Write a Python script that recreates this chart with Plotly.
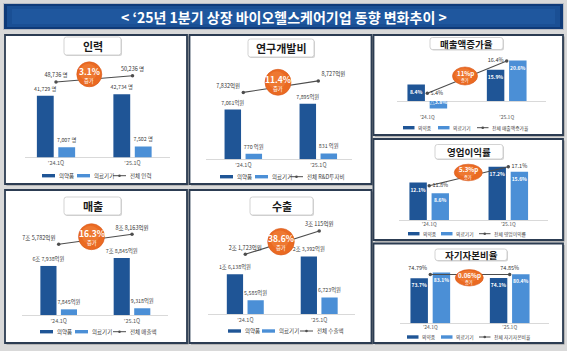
import plotly.graph_objects as go

W, H = 567, 351
FONT = "Noto Sans CJK KR"

# ---------------- data ----------------
quarters = ["'24.1Q", "'25.1Q"]
series_names = ["의약품", "의료기기"]

staff_pharma = [41729, 42734]
staff_device = [7007, 7502]
staff_total = [48736, 50236]

rnd_pharma = [7061, 7895]
rnd_device = [770, 831]
rnd_total = [7832, 8727]

sales_pharma = [67938, 78845]
sales_device = [7845, 9318]
sales_total = [75782, 88163]

export_pharma = [16138, 23392]
export_device = [5585, 6723]
export_total = [21723, 30115]

growth_pharma = [8.4, 15.9]
growth_device = [-3.8, 20.6]
growth_total = [5.4, 16.4]

opm_pharma = [12.1, 17.2]
opm_device = [8.6, 15.6]
opm_total = [11.8, 17.1]

equity_pharma = [73.7, 74.1]
equity_device = [83.1, 80.4]
equity_total = [74.79, 74.85]

main_title = "&lt; ‘25년 1분기 상장 바이오헬스케어기업 동향 변화추이 &gt;"
panel_titles = ["인력", "연구개발비", "매출", "수출", "매출액증가율", "영업이익률", "자기자본비율"]
total_names = ["전체 인력", "전체 R&amp;D투자비", "전체 매출액", "전체 수출액",
               "전체 매출액증가율", "전체 영업이익률", "전체 자기자본비율"]
change_labels = ["3.1%", "11.4%", "16.3%", "38.6%", "11%p", "5.3%p", "0.06%p"]
change_word = "증가"


# ---------------- formatters ----------------
def fmt_people(v):
    return f"{v:,} 명"


def fmt_eok(v):
    if v >= 10000:
        jo, rest = divmod(v, 10000)
        return f"{jo}조 {rest:,}억원"
    if v < 1000:
        return f"{v} 억원"
    return f"{v:,}억원"


def fmt_pct(v):
    return f"△{abs(v)}%" if v < 0 else f"{v}%"


def fmt_pct_plain(v):
    return f"{v}%"


# ---------------- styles ----------------
C_PHARMA = "#1f5596"
C_DEVICE = "#4b8fd6"
C_LINE = "#4d4d4d"
C_ORANGE = "#ea6a22"
C_NAVY = "#2c3c52"
C_TEXT = "#404040"


def px(x):
    return x / W


def py(y):
    return 1 - y / H


panels = [
    dict(pharma=staff_pharma, device=staff_device, total=staff_total, fmt=fmt_people, tfmt=fmt_people,
         side="left", frame=(5, 35, 187, 184), tbox=(64, 37, 121, 55),
         c0=56, c1=132.5, xr=(-0.4, 1.49), ydom=(60, 157.5), yr=(0, 66000), y2r=(30760, 53974),
         lpos=["top center", "top center"], badge=(89.3, 74.3, 12.5, 12.5),
         legend=(175.7, 42, 77, 113)),
    dict(pharma=rnd_pharma, device=rnd_device, total=rnd_total, fmt=fmt_eok, tfmt=fmt_eok,
         side="left", frame=(189.5, 35, 371.5, 184), tbox=(248, 39, 314, 57),
         c0=243.3, c1=318.3, xr=(-0.5, 1.45), ydom=(62, 159.3), yr=(0, 13800), y2r=(2606, 10204),
         lpos=["top left", "top right"], badge=(278, 82.3, 13, 13),
         legend=(176.7, 220, 255, 290)),
    dict(pharma=sales_pharma, device=sales_device, total=sales_total, fmt=fmt_eok, tfmt=fmt_eok,
         side="left", frame=(5, 190, 187, 343), tbox=(64, 197, 121, 215),
         c0=58.7, c1=132, xr=(-0.5, 1.49), ydom=(218, 315), yr=(0, 134350), y2r=(-11751, 108344),
         lpos=["top left", "top center"], badge=(91.5, 236.7, 13, 13),
         legend=(331.7, 40, 75, 113)),
    dict(pharma=export_pharma, device=export_device, total=export_total, fmt=fmt_eok, tfmt=fmt_eok,
         side="left", frame=(189.5, 190, 371.5, 343), tbox=(250, 197, 313, 215),
         c0=245.3, c1=319.2, xr=(-0.5, 1.484), ydom=(218, 314), yr=(0, 39000), y2r=(217, 34799),
         lpos=["top center", "top center"], badge=(281, 241.7, 13.3, 13.3),
         legend=(331, 228, 262, 300)),
    dict(pharma=growth_pharma, device=growth_device, total=growth_total, fmt=fmt_pct, tfmt=fmt_pct_plain,
         side="right", frame=(373.5, 35, 563, 135), tbox=(430, 37.5, 503, 49.5),
         c0=427.3, c1=506.7, xr=(-0.385, 1.5), ydom=(52, 113), yr=(-6.12, 25.0), y2r=(-1.31, 19.47),
         lpos=["middle right", "middle left"], badge=(465, 76, 12.5, 9),
         legend=(127.7, 403, 438, 477)),
    dict(pharma=opm_pharma, device=opm_device, total=opm_total, fmt=fmt_pct, tfmt=fmt_pct_plain,
         side="right", frame=(373.5, 139, 563, 240), tbox=(435, 144.5, 503, 159),
         c0=429.2, c1=508.3, xr=(-0.38, 1.5), ydom=(163, 220), yr=(0, 18.39), y2r=(2.23, 18.13),
         lpos=["middle right", "middle right"], badge=(468.3, 172.5, 14, 8.3),
         legend=(233.7, 408, 441, 479)),
    dict(pharma=equity_pharma, device=equity_device, total=equity_total, fmt=fmt_pct, tfmt=fmt_pct_plain,
         side="right", frame=(373.5, 243.5, 563, 343), tbox=(435, 249, 507, 260.5),
         c0=430.3, c1=509.7, xr=(-0.38, 1.5), ydom=(265, 323.3), yr=(0, 95.4), y2r=(-5.07, 90.35),
         lpos=["top left", "top center"], badge=(469.3, 277.8, 14, 8.2),
         legend=(337, 407, 441, 479)),
]


def rrect(x0, y0, x1, y1, r):
    return (f"M{px(x0 + r)},{py(y0)} L{px(x1 - r)},{py(y0)} Q{px(x1)},{py(y0)} {px(x1)},{py(y0 + r)} "
            f"L{px(x1)},{py(y1 - r)} Q{px(x1)},{py(y1)} {px(x1 - r)},{py(y1)} "
            f"L{px(x0 + r)},{py(y1)} Q{px(x0)},{py(y1)} {px(x0)},{py(y1 - r)} "
            f"L{px(x0)},{py(y0 + r)} Q{px(x0)},{py(y0)} {px(x0 + r)},{py(y0)} Z")


fig = go.Figure()
shapes = []
annotations = []
layout = dict(width=W, height=H, margin=dict(l=0, r=0, t=0, b=0),
              paper_bgcolor="#d9d9d9", plot_bgcolor="rgba(0,0,0,0)",
              barmode="overlay", showlegend=False,
              font=dict(family=FONT, color=C_TEXT))


def paper_rect(x0, y0, x1, y1, fill, line=None, layer="below"):
    d = dict(type="rect", xref="paper", yref="paper", x0=px(x0), x1=px(x1), y0=py(y1), y1=py(y0),
             fillcolor=fill, layer=layer)
    d["line"] = line if line else dict(width=0)
    return d


def ann(text, x, y, size, color=C_TEXT, xanchor="center"):
    return dict(text=text, x=px(x), y=py(y), xref="paper", yref="paper", showarrow=False,
                xanchor=xanchor, yanchor="middle", font=dict(size=size, color=color, family=FONT))


# title band
shapes.append(paper_rect(3, 3, 564, 30, "#b8bcc4"))
shapes.append(paper_rect(4, 4, 563, 29, "#0f3a78"))
shapes.append(paper_rect(7, 6, 560, 27, "#1a4f94"))
shapes.append(paper_rect(12, 9, 555, 24, "#1f579e"))
annotations.append(ann(f"<b>{main_title}</b>", 283.5, 16.5, 14, "white"))

for i, p in enumerate(panels):
    n = i + 1
    left = p["side"] == "left"
    xs = "x" if n == 1 else f"x{n}"
    ys = "y" if n == 1 else f"y{n}"
    y2s = f"y{n + 7}"
    xkey = "xaxis" if n == 1 else f"xaxis{n}"
    ykey = "yaxis" if n == 1 else f"yaxis{n}"
    y2key = f"yaxis{n + 7}"

    # frame
    fx0, fy0, fx1, fy1 = p["frame"]
    shapes.append(paper_rect(fx0 + 1.5, fy0 + 1.5, fx1 + 1.5, fy1 + 1.5, "#8f8f8f"))
    shapes.append(paper_rect(fx0, fy0, fx1, fy1, "white", dict(color=C_NAVY, width=1.8)))

    # title box
    tx0, ty0, tx1, ty1 = p["tbox"]
    shapes.append(dict(type="path", xref="paper", yref="paper", path=rrect(tx0 + 1, ty0 + 1, tx1 + 1, ty1 + 1, 2.5),
                       fillcolor="#d4d4d4", line=dict(width=0), layer="below"))
    shapes.append(dict(type="path", xref="paper", yref="paper", path=rrect(tx0, ty0, tx1, ty1, 2.5),
                       fillcolor="white", line=dict(color="#c8c8c8", width=0.8), layer="below"))
    annotations.append(ann(f"<b>{panel_titles[i]}</b>", (tx0 + tx1) / 2, (ty0 + ty1) / 2 + 0.3,
                           11 if left else 9.5, "#1a1a1a"))

    # axes
    unit = p["c1"] - p["c0"]
    dom_x = [px(p["c0"] + p["xr"][0] * unit), px(p["c0"] + p["xr"][1] * unit)]
    dom_y = [py(p["ydom"][1]), py(p["ydom"][0])]
    layout[xkey] = dict(domain=dom_x, anchor=ys, type="category", range=list(p["xr"]),
                        showgrid=False, zeroline=False, showline=False, ticks="",
                        tickfont=dict(size=5.5 if left else 5, color="#595959", family=FONT),
                        ticklabelstandoff=1 if left else 0, fixedrange=True)
    layout[ykey] = dict(domain=dom_y, anchor=xs, range=list(p["yr"]), showgrid=False,
                        showticklabels=False, zeroline=True, zerolinecolor="#d9d9d9",
                        zerolinewidth=1, showline=False, fixedrange=True)
    layout[y2key] = dict(overlaying=ys, anchor=xs, range=list(p["y2r"]), visible=False,
                         showgrid=False, zeroline=False, fixedrange=True)

    # bars
    for vals, name, color, off in [(p["pharma"], series_names[0], C_PHARMA, -0.25),
                                   (p["device"], series_names[1], C_DEVICE, 0.03)]:
        texts = [p["fmt"](v) for v in vals]
        if left:
            fig.add_trace(go.Bar(x=quarters, y=vals, name=name, width=0.22, offset=off,
                                 marker=dict(color=color, line=dict(width=0)),
                                 text=texts, textposition="outside", cliponaxis=False,
                                 constraintext="none", textangle=0,
                                 outsidetextfont=dict(size=5.3, color=C_TEXT, family=FONT),
                                 xaxis=xs, yaxis=ys, hoverinfo="skip", showlegend=False))
        else:
            fig.add_trace(go.Bar(x=quarters, y=vals, name=name, width=0.22, offset=off,
                                 marker=dict(color=color, line=dict(width=0)),
                                 text=texts, texttemplate="<b>%{text}</b>", textposition="inside",
                                 insidetextanchor="end", cliponaxis=False, textangle=0,
                                 constraintext="none",
                                 insidetextfont=dict(size=5, color="white", family=FONT),
                                 xaxis=xs, yaxis=ys, hoverinfo="skip", showlegend=False))

    # total line
    fig.add_trace(go.Scatter(x=quarters, y=p["total"], mode="lines+markers+text",
                             line=dict(color=C_LINE, width=1.1), marker=dict(size=3.5, color=C_LINE),
                             text=[p["tfmt"](v) for v in p["total"]], textposition=p["lpos"],
                             textfont=dict(size=5.5, color="#333333", family=FONT),
                             cliponaxis=False, xaxis=xs, yaxis=y2s, hoverinfo="skip", showlegend=False))

    # change badge
    bx, by, rx, ry = p["badge"]
    shapes.append(dict(type="circle", xref="paper", yref="paper", x0=px(bx - rx), x1=px(bx + rx),
                       y0=py(by + ry), y1=py(by - ry), fillcolor=C_ORANGE,
                       line=dict(color="#d9581a", width=0.6), layer="above"))
    shapes.append(dict(type="circle", xref="paper", yref="paper", x0=px(bx - rx * 0.78), x1=px(bx + rx * 0.6),
                       y0=py(by + ry * 0.55), y1=py(by - ry * 0.85), fillcolor="#f38a45",
                       opacity=0.45, line=dict(width=0), layer="above"))
    if left:
        annotations.append(ann(f"<b>{change_labels[i]}</b>", bx, by - 3.4, 8.5, "white"))
        annotations.append(ann(change_word, bx, by + 6.4, 5.3, "white"))
    else:
        annotations.append(ann(f"<b>{change_labels[i]}</b>", bx, by - 2.6, 6.2, "white"))
        annotations.append(ann(change_word, bx, by + 4.6, 4.2, "white"))

    # legend
    ly, xd, xl, xline = p["legend"]
    sw = 13 if left else 11.5
    lfs = 5.5 if left else 4.8
    for sx, col, label in [(xd, C_PHARMA, series_names[0]), (xl, C_DEVICE, series_names[1])]:
        shapes.append(paper_rect(sx, ly - 1.7, sx + sw, ly + 1.7, col, layer="above"))
        annotations.append(ann(label, sx + sw + 1.5, ly, lfs, C_TEXT, "left"))
    shapes.append(dict(type="line", xref="paper", yref="paper", x0=px(xline), x1=px(xline + sw),
                       y0=py(ly), y1=py(ly), line=dict(color=C_LINE, width=1), layer="above"))
    shapes.append(dict(type="circle", xref="paper", yref="paper", x0=px(xline + sw / 2 - 1.3),
                       x1=px(xline + sw / 2 + 1.3), y0=py(ly + 1.3), y1=py(ly - 1.3),
                       fillcolor=C_LINE, line=dict(width=0), layer="above"))
    annotations.append(ann(total_names[i], xline + sw + 1.5, ly, lfs, C_TEXT, "left"))

layout["shapes"] = shapes
layout["annotations"] = annotations
fig.update_layout(**layout)
fig.write_html("out.html", config={"displayModeBar": False, "staticPlot": True})
